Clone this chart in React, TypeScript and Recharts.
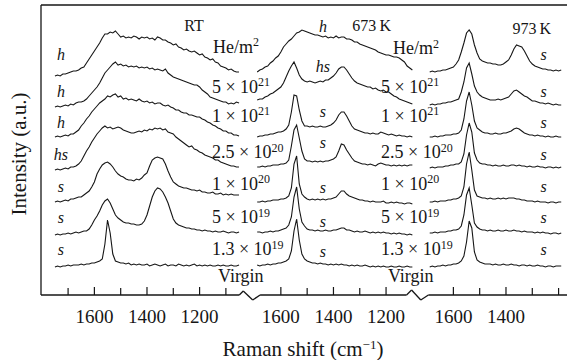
import React from 'react';
import { LineChart, Line, XAxis, YAxis, ReferenceLine, ReferenceDot } from 'recharts';

const SERIF = '"Liberation Serif", "DejaVu Serif", serif';
const INK = '#161616';
const TXT = { fontFamily: SERIF } as React.CSSProperties;

// ---------- data ----------
const PANEL_TITLES = ['RT', '673\u2009K', '973\u2009K'];

// Raman shift grids (cm^-1) of each panel
const RT_SHIFTS = [1750,1740,1730,1720,1710,1700,1690,1680,1670,1660,1650,1640,1630,1620,1610,1600,1590,1580,1570,1560,1550,1540,1530,1520,1510,1500,1490,1480,1470,1460,1450,1440,1430,1420,1410,1400,1390,1380,1370,1360,1350,1340,1330,1320,1310,1300,1290,1280,1270,1260,1250,1240,1230,1220,1210,1200,1190,1180,1170,1160,1150,1140,1130,1120,1110,1100,1090,1080,1070,1060,1050];
const MID_SHIFTS = [1690,1680,1670,1660,1650,1640,1630,1620,1610,1600,1590,1580,1570,1560,1550,1540,1530,1520,1510,1500,1490,1480,1470,1460,1450,1440,1430,1420,1410,1400,1390,1380,1370,1360,1350,1340,1330,1320,1310,1300,1290,1280,1270,1260,1250,1240,1230,1220,1210,1200,1190,1180,1170,1160,1150,1140,1130,1120,1110,1100];
const HI_SHIFTS = [1690,1680,1670,1660,1650,1640,1630,1620,1610,1600,1590,1580,1570,1560,1550,1540,1530,1520,1510,1500,1490,1480,1470,1460,1450,1440,1430,1420,1410,1400,1390,1380,1370,1360,1350,1340,1330,1320,1310,1300,1290,1280,1270,1260,1250,1240,1230,1220,1210,1200,1190];

// vertical stacking offset of each row (a.u.)
const ROW_OFFSETS = [223, 191, 158, 127, 93, 62, 29];

// intensities (a.u., relative to row offset)
const RT_SPECTRA = [
  [-4,-3,-4,-2,-2,-1,0,1,1,2, 4,5,9,13,17,21,25,29,34,38, 38,40,39,41,38,35,36,34,35,34, 36,35,33,35,34,35,33,34,32,35, 34,32,32,30,29,27,28,25,24,22, 23,21,20,21,19,17,18,15,14,12, 13,10,9,6,5,4,2,3,1,0, 0],
  [-3,-2,-3,-2,-1,-2,0,-1,1,2, 2,3,5,8,11,14,17,21,26,31, 34,37,40,42,39,40,38,39,37,38, 37,38,36,37,36,37,35,36,34,35, 34,33,35,31,29,27,26,25,24,23, 22,21,20,19,19,17,14,12,10,7, 6,5,4,3,2,2,0,1,0,2, 1],
  [0,1,0,1,2,1,3,3,5,7, 11,14,18,21,25,28,31,34,36,38, 41,40,42,43,40,41,38,39,37,38, 37,36,38,36,35,36,34,35,33,34, 34,32,31,32,30,29,27,27,25,24, 24,22,22,21,20,20,18,17,15,14, 12,11,9,8,6,6,4,4,2,2, 1],
  [-2,-1,-2,-1,0,-1,1,1,2,4, 7,12,17,21,26,30,34,37,40,42, 40,41,39,40,41,40,38,37,36,35, 35,36,37,36,38,37,39,38,40,39, 40,38,39,36,35,34,31,29,27,25, 23,21,22,19,18,16,15,13,12,11, 10,8,8,6,5,4,3,2,2,1, 1],
  [0,1,0,1,2,1,3,3,4,5, 5,7,9,11,15,20,28,33,37,39, 40,38,35,31,28,26,25,23,22,22, 21,23,22,24,27,29,36,42,44,45, 44,43,38,31,25,20,18,16,15,14, 14,13,12,12,11,12,10,10,9,9, 10,8,8,9,7,8,7,8,7,7, 7],
  [-2,-1,-2,-1,-1,0,-1,0,1,0, 1,2,2,4,8,13,17,22,28,32, 34,30,24,18,15,13,11,10,10,9, 9,8,8,9,12,18,27,36,42,45, 44,41,36,30,22,14,10,8,7,6, 5,5,4,4,3,3,2,3,2,2, 1,2,1,1,2,1,0,1,1,0, 1],
  [-1,0,-1,0,0,1,0,1,1,1, 2,1,2,2,3,3,4,5,7,22, 46,33,12,5,4,3,3,2,3,1, 2,1,2,1,1,2,0,1,2,1, 0,1,2,0,1,1,0,2,1,0, 1,0,1,2,0,1,0,1,0,1, 0,0,1,0,1,0,0,1,0,0, 1],
];
const K673_SPECTRA = [
  [0,2,3,5,6,9,11,14,16,20, 25,28,31,33,36,39,40,42,41,40, 39,38,37,37,36,35,36,34,35,34, 36,34,35,35,33,33,32,30,30,28, 27,26,25,24,23,22,20,19,18,17, 17,16,15,15,14,12,10,6,4,2],
  [4,5,5,7,8,10,11,13,15,17, 21,27,33,38,42,36,29,25,23,22, 23,22,21,22,23,22,24,24,26,28, 31,35,37,37,34,30,26,23,21,20, 19,18,17,17,15,16,14,13,14,12, 12,10,8,7,5,4,3,2,1,0],
  [0,1,1,2,2,3,3,4,5,5, 6,8,12,25,42,41,27,16,11,11, 10,11,10,10,11,10,10,11,12,14, 17,22,25,25,21,16,11,8,7,6, 5,4,4,3,4,3,3,5,4,3, 2,3,2,1,2,1,1,0,1,0],
  [1,1,2,1,2,2,3,3,3,4, 4,5,8,22,38,43,30,17,9,7, 7,6,7,6,7,6,7,7,8,9, 11,17,24,23,18,14,10,7,6,5, 4,4,3,4,3,2,4,5,4,3, 3,2,3,2,3,2,3,2,3,3],
  [0,0,1,0,1,1,2,2,2,3, 3,4,6,14,38,46,18,8,5,3, 2,3,2,3,2,3,2,3,3,4, 5,8,11,11,8,6,5,4,3,2, 2,1,1,0,1,0,0,0,1,-1, -1,0,-1,0,-1,-1,-2,-1,-1,-2],
  [1,1,0,1,1,2,1,2,2,3, 4,5,8,16,36,46,24,11,7,4, 3,3,2,3,2,2,3,2,2,3, 3,4,5,5,3,3,2,1,2,1, 1,2,1,0,1,0,1,0,1,0, 0,-1,0,-1,0,-1,-1,-2,-1,-2],
  [1,0,1,1,2,1,2,2,3,3, 4,5,7,15,35,47,26,12,7,5, 4,3,3,2,3,2,2,1,2,1, 2,1,2,1,1,0,1,0,1,0, 0,1,0,-1,0,-1,0,-1,0,-1, -1,0,-1,-1,0,-1,-1,0,-1,-1],
];
const K973_SPECTRA = [
  [0,1,0,1,1,2,2,3,4,5, 8,12,20,29,39,42,38,27,19,13, 11,10,9,9,8,8,7,7,8,10, 12,17,23,27,26,25,21,16,11,8, 6,5,4,3,3,2,2,1,2,1, 2],
  [-1,0,-1,0,0,1,1,2,2,3, 4,5,12,22,36,41,30,18,12,9, 7,6,5,4,4,4,5,4,5,6, 7,10,13,14,12,10,8,7,5,3, 3,2,1,1,0,1,0,-1,0,-1, -1],
  [0,0,1,0,1,1,2,2,2,3, 3,4,7,18,36,45,32,16,9,7, 5,4,4,3,3,4,3,3,4,4, 5,6,8,9,8,6,4,3,2,2, 1,2,1,1,0,1,0,0,1,0, 0],
  [0,1,0,1,1,1,2,2,3,3, 4,4,6,14,33,45,36,15,8,5, 4,4,3,3,2,3,2,2,3,2, 2,3,3,2,3,2,2,1,2,1, 1,2,1,1,0,1,1,0,1,0, 1],
  [0,0,1,0,1,1,1,2,2,3, 3,4,6,15,38,50,32,12,6,5, 4,4,3,4,3,3,4,3,4,3, 4,4,4,3,3,2,2,1,1,1, 0,1,0,0,0,-1,0,0,-1,0, 0],
  [0,0,1,0,1,1,1,2,2,3, 3,4,7,18,38,45,28,10,6,4, 3,3,2,3,2,2,3,2,2,3, 2,2,3,2,2,1,2,1,1,1, 0,1,0,1,0,0,-1,0,0,-1, 0],
  [-1,0,-1,0,0,1,0,1,1,2, 2,3,5,10,24,45,38,14,6,4, 3,2,2,2,1,2,1,1,2,1, 1,2,1,1,0,1,1,0,1,0, 0,1,0,0,-1,0,0,-1,0,0, 0],
];

const RT_TAGS = ['h', 'h', 'h', 'hs', 's', 's', 's'];
const K673_TAGS = ['h', 'hs', 's', 's', 's', 's', 's'];
const K973_TAGS = ['s', 's', 's', 's', 's', 's', 's'];
const DOSE_LABELS = ['He/m^2', '5 \u00d7 10^21', '1 \u00d7 10^21', '2.5 \u00d7 10^20', '1 \u00d7 10^20', '5 \u00d7 10^19', '1.3 \u00d7 10^19', 'Virgin'];

const TICK_SHIFTS = [
  [1700, 1600, 1500, 1400, 1300, 1200, 1100],
  [1600, 1500, 1400, 1300, 1200],
  [1600, 1500, 1400, 1300, 1200],
];
const TICK_LABELS = [
  [1600, 1400, 1200],
  [1600, 1400, 1200],
  [1600, 1400],
];

// ---------- layout (axis units) ----------
const PANEL_SHIFT = [0, 709, 1365];
const X_DOMAIN: [number, number] = [-3, 1997];
const Y_DOMAIN: [number, number] = [0, 290];
const TAG_SHIFT = [1727, 1440, 1257];
const TAG_V_SIDE = [235, 198.5, 167, 135, 103, 72, 40];
const TAG_V_MID = [263, 223, 178, 147, 102, 68, 38];
const TITLE_POS = [[1221, 264], [1255, 264], [1302, 261]];
const DOSE_V = [242.3, 202.3, 173.3, 136.7, 105.5, 71.7, 40, 13.3];
const DOSE_U_RT = [651, 647, 647, 647, 647, 647, 647, 670];
const DOSE_U_MID = [1335, 1290, 1290, 1290, 1290, 1290, 1290, 1316];
const AXIS_PATH = [[-3, 0], [751, 0], [766, 4], [802, -5], [830, 0], [1387, 0], [1406, 5], [1441, -5], [1470, 0], [1997, 0]];

const toU = (panel: number, raman: number) => PANEL_SHIFT[panel] + 1800 - raman;

const GRIDS = [RT_SHIFTS, MID_SHIFTS, HI_SHIFTS];
const SPECTRA = [RT_SPECTRA, K673_SPECTRA, K973_SPECTRA];
const SERIES = SPECTRA.flatMap((rows, p) =>
  rows.map((vals, i) => ({
    key: `p${p}r${i}`,
    data: GRIDS[p].map((r, j) => ({ u: toU(p, r), v: ROW_OFFSETS[i] + vals[j] })),
  }))
);

const TICKS = TICK_SHIFTS.flatMap((list, p) => list.map((r) => toU(p, r)));
const TICK_TEXT = new Map<number, string>(
  TICK_SHIFTS.flatMap((list, p) =>
    list.map((r) => [toU(p, r), TICK_LABELS[p].includes(r) ? String(r) : ''] as [number, string])
  )
);

type Note = { u: number; v: number; text: string; anchor: 'start' | 'middle'; size: number; italic?: boolean };
const NOTES: Note[] = [];
[RT_TAGS, K673_TAGS, K973_TAGS].forEach((tags, p) =>
  tags.forEach((t, i) =>
    NOTES.push({ u: toU(p, TAG_SHIFT[p]), v: (p === 1 ? TAG_V_MID : TAG_V_SIDE)[i], text: t, anchor: 'middle', size: 16, italic: true })
  )
);
PANEL_TITLES.forEach((t, p) => NOTES.push({ u: toU(p, TITLE_POS[p][0]), v: TITLE_POS[p][1], text: t, anchor: 'middle', size: 16 }));
DOSE_LABELS.forEach((t, i) => {
  NOTES.push({ u: DOSE_U_RT[i], v: DOSE_V[i], text: t, anchor: 'start', size: 18 });
  NOTES.push({ u: DOSE_U_MID[i], v: i === 0 ? 241 : DOSE_V[i], text: t, anchor: 'start', size: 18 });
});

function rich(text: string, supSize: number, rise: number) {
  const idx = text.indexOf('^');
  if (idx < 0) return text;
  return (
    <>
      {text.slice(0, idx)}
      <tspan dy={-rise} fontSize={supSize}>{text.slice(idx + 1)}</tspan>
    </>
  );
}

function AxisTick(props: any) {
  const { x, y, payload } = props;
  const label = TICK_TEXT.get(payload.value) ?? '';
  const major = label !== '';
  return (
    <g>
      <line x1={x} x2={x} y1={y} y2={y - (major ? 8 : 7)} stroke={INK} strokeWidth={1.2} />
      {major && (
        <text x={x} y={y + 28} textAnchor="middle" fontFamily={SERIF} style={TXT} fontSize={19} fill={INK}>
          {label}
        </text>
      )}
    </g>
  );
}

export default function App() {
  return (
    <div style={{ position: 'absolute', left: 0, top: 0, width: 567, height: 360, background: '#fff', fontFamily: SERIF }}>
      <LineChart width={567} height={360} margin={{ top: 5, right: 0, bottom: 0, left: 0 }} style={TXT}>
        <XAxis
          type="number"
          dataKey="u"
          domain={X_DOMAIN}
          allowDataOverflow
          ticks={TICKS}
          interval={0}
          tick={<AxisTick />}
          tickLine={false}
          axisLine={false}
          tickSize={0}
          tickMargin={0}
          height={65}
          label={(p: any) => {
            const vb = p.viewBox;
            return (
              <text x={vb.x + vb.width / 2 - 1} y={vb.y + 61} textAnchor="middle" fontFamily={SERIF} style={TXT} fontSize={21} fill={INK}>
                Raman shift (cm
                <tspan dy={-7} fontSize={13}>{'\u22121'}</tspan>
                <tspan dy={7}>)</tspan>
              </text>
            );
          }}
        />
        <YAxis
          type="number"
          domain={Y_DOMAIN}
          allowDataOverflow
          width={41}
          tick={false}
          tickLine={false}
          axisLine={{ stroke: INK, strokeWidth: 1.3 }}
          label={(p: any) => {
            const vb = p.viewBox;
            const cx = 25.5;
            const cy = vb.y + vb.height / 2 + 4;
            return (
              <text x={cx} y={cy} transform={`rotate(-90, ${cx}, ${cy})`} textAnchor="middle" fontFamily={SERIF} style={TXT} fontSize={21} fill={INK}>
                Intensity (a.u.)
              </text>
            );
          }}
        />
        <ReferenceLine y={Y_DOMAIN[1]} stroke={INK} strokeWidth={1.3} ifOverflow="visible" />
        {AXIS_PATH.slice(0, -1).map((pt, k) => (
          <ReferenceLine
            key={`ax${k}`}
            segment={[{ x: pt[0], y: pt[1] }, { x: AXIS_PATH[k + 1][0], y: AXIS_PATH[k + 1][1] }]}
            stroke={INK}
            strokeWidth={1.3}
            ifOverflow="visible"
          />
        ))}
        {SERIES.map((s) => (
          <Line
            key={s.key}
            data={s.data}
            dataKey="v"
            type="linear"
            stroke={INK}
            strokeWidth={1.1}
            dot={false}
            activeDot={false}
            isAnimationActive={false}
          />
        ))}
        {NOTES.map((n, k) => (
          <ReferenceDot
            key={`n${k}`}
            x={n.u}
            y={n.v}
            r={0}
            fill="none"
            stroke="none"
            ifOverflow="visible"
            label={(p: any) => {
              const vb = p.viewBox;
              return (
                <text
                  x={vb.x}
                  y={vb.y}
                  textAnchor={n.anchor}
                  fontFamily={SERIF}
                  style={TXT}
                  fontSize={n.size}
                  fontStyle={n.italic ? 'italic' : 'normal'}
                  fill={INK}
                >
                  {rich(n.text, 12, 6.5)}
                </text>
              );
            }}
          />
        ))}
      </LineChart>
    </div>
  );
}
